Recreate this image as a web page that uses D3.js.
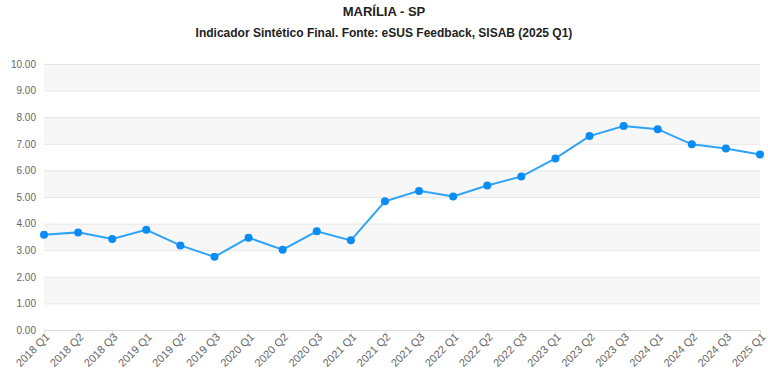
<!DOCTYPE html>
<html>
<head>
<meta charset="utf-8">
<script src="https://cdn.jsdelivr.net/npm/d3@7"></script>
<style>
  body { margin: 0; background: #fff; }
  svg { display: block; }
</style>
</head>
<body>
<div id="chart"></div>
<script>
// Indicador Sintético Final - MARÍLIA - SP

const categories = ['2018 Q1','2018 Q2','2018 Q3','2019 Q1','2019 Q2','2019 Q3','2020 Q1','2020 Q2','2020 Q3',
                    '2021 Q1','2021 Q2','2021 Q3','2022 Q1','2022 Q2','2022 Q3','2023 Q1','2023 Q2','2023 Q3',
                    '2024 Q1','2024 Q2','2024 Q3','2025 Q1'];
const values = [3.58, 3.67, 3.42, 3.77, 3.18, 2.75, 3.47, 3.02, 3.71,
                3.37, 4.84, 5.23, 5.02, 5.43, 5.77, 6.45, 7.29, 7.67,
                7.55, 6.98, 6.82, 6.60];
const yTicks = [0, 1, 2, 3, 4, 5, 6, 7, 8, 9, 10];

const width = 768, height = 385;
const margin = { top: 64, right: 8, bottom: 55, left: 44 };   // plot area 44..760, 64..330

const svg = d3.select('#chart')
              .append('svg')
              .attr('width', width)
              .attr('height', height);

// --- Titles ---
svg.append('text')
   .attr('x', width / 2).attr('y', 16)
   .attr('text-anchor', 'middle')
   .style('font-family', '"Liberation Sans Narrow", "Arial Narrow", Arial, sans-serif')
   .style('font-weight', 'bold').style('font-size', '13px').style('fill', '#222')
   .text('MARÍLIA - SP');

svg.append('text')
   .attr('x', width / 2).attr('y', 37)
   .attr('text-anchor', 'middle')
   .style('font-family', '"Liberation Sans Narrow", "Arial Narrow", Arial, sans-serif')
   .style('font-weight', 'bold').style('font-size', '12px').style('fill', '#222')
   .text('Indicador Sintético Final. Fonte: eSUS Feedback, SISAB (2025 Q1)');

// --- Scales ---
const x = d3.scalePoint()
            .domain(categories)
            .range([margin.left, width - margin.right]);

const y = d3.scaleLinear()
            .domain([0, 10])
            .range([height - margin.bottom, margin.top]);

// Alternating bands
svg.append('g')
   .selectAll('rect')
   .data(yTicks.slice(0, -1).filter(d => d % 2 === 1))
   .enter()
   .append('rect')
   .attr('x', margin.left)
   .attr('width', width - margin.right - margin.left)
   .attr('y', d => y(d + 1))
   .attr('height', d => y(d) - y(d + 1))
   .attr('fill', '#f7f7f7');

// Grid lines + y labels
const yAxis = svg.append('g')
   .attr('transform', 'translate(' + margin.left + ',0)')
   .call(d3.axisLeft(y).tickValues(yTicks).tickFormat(d3.format('.2f'))
           .tickSize(-(width - margin.right - margin.left)).tickPadding(8));
yAxis.select('.domain').remove();
yAxis.selectAll('.tick line').attr('stroke', '#e6e6e6');
yAxis.selectAll('.tick text')
     .style('font-family', 'Arial, "Liberation Sans", sans-serif')
     .style('font-size', '10px').style('fill', '#666');

// --- X Axis ---
const xAxis = svg.append('g')
   .attr('transform', 'translate(0,' + (height - margin.bottom) + ')')
   .call(d3.axisBottom(x).tickSize(6));
xAxis.select('.domain').attr('stroke', '#ddd');
xAxis.selectAll('.tick line').attr('stroke', '#ddd');
xAxis.selectAll('.tick text')
     .style('font-family', 'Arial, "Liberation Sans", sans-serif')
     .style('font-size', '11px').style('fill', '#666')
     .attr('y', 0)
     .attr('dy', '0.35em')
     .attr('transform', 'translate(3,5) rotate(-45)')
     .style('text-anchor', 'end');

// --- Line + points ---
const data = categories.map((c, i) => ({ label: c, value: values[i] }));

svg.append('path')
   .datum(data)
   .attr('fill', 'none')
   .attr('stroke', '#2ea3f7')
   .attr('stroke-width', 2)
   .attr('d', d3.line().x(d => x(d.label)).y(d => y(d.value)));

svg.selectAll('circle')
   .data(data)
   .enter()
   .append('circle')
   .attr('cx', d => x(d.label))
   .attr('cy', d => y(d.value))
   .attr('r', 4)
   .attr('fill', '#0a8cf5');
</script>
</body>
</html>
